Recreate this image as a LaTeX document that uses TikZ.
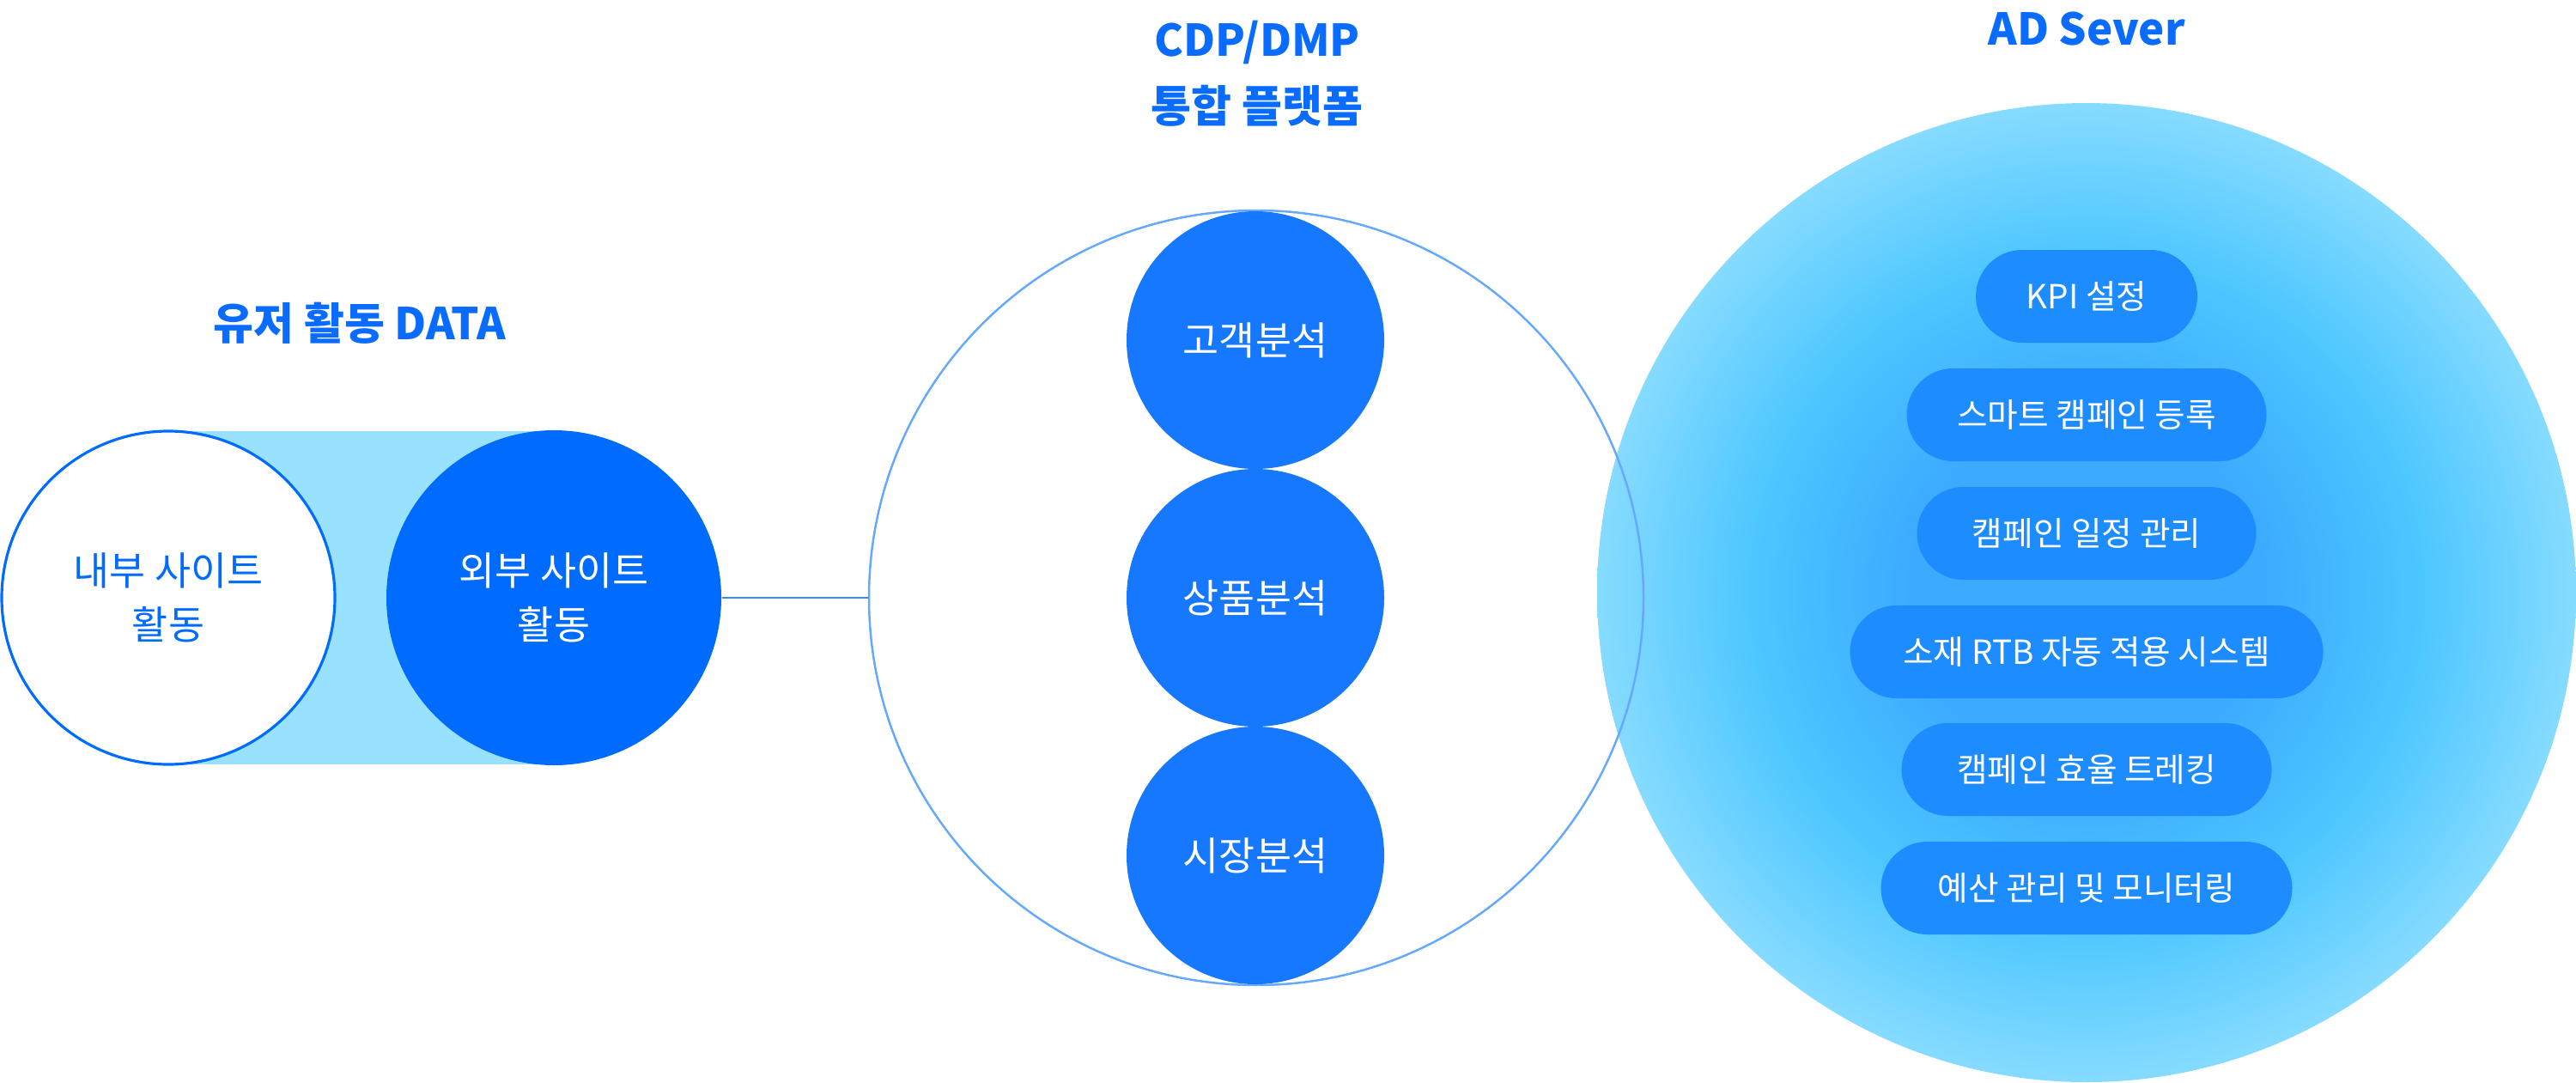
\documentclass[tikz,border=0pt]{standalone}
\usepackage{fontspec}
\setmainfont{Noto Sans CJK KR}
\usetikzlibrary{calc}
\definecolor{titleblue}{RGB}{10,108,255}
\definecolor{deepblue}{RGB}{0,108,255}
\definecolor{midblue}{RGB}{22,119,255}
\definecolor{pillblue}{RGB}{28,140,255}
\definecolor{bandblue}{RGB}{152,225,255}
\definecolor{ringblue}{RGB}{100,168,255}
\definecolor{linkblue}{RGB}{50,140,255}
\definecolor{glowA}{RGB}{60,170,255}
\definecolor{glowB}{RGB}{76,198,255}
\definecolor{glowC}{RGB}{134,219,255}
\pgfdeclareradialshading{adglow}{\pgfpoint{0bp}{0bp}}{color(0bp)=(glowA); color(9bp)=(glowA); color(17bp)=(glowB); color(25bp)=(glowC); color(50bp)=(glowC)}

\begin{document}
\begin{tikzpicture}[
  headtext/.style={font=\bfseries\fontsize{14.5}{22}\selectfont, text=titleblue, align=center},
  bodytext/.style={font=\fontsize{13}{18}\selectfont, align=center},
  ball/.style={circle, bodytext, inner sep=0pt, text=white},
  pill/.style={rectangle, rounded corners=0.54cm, fill=pillblue, text=white, minimum height=1.08cm, inner sep=0pt, font=\fontsize{11}{13}\selectfont}
]
\useasboundingbox (0,0) rectangle (30,12.6);

\fill [bandblue] (1.96,3.70) rectangle (6.45,7.58);
\node [ball, minimum size=3.88cm, fill=white, draw=deepblue, line width=0.9pt, text=deepblue] (insite) at (1.96,5.64) {내부 사이트\\활동};
\node [ball, minimum size=3.90cm, fill=deepblue] (extsite) at (6.45,5.64) {외부 사이트\\활동};
\node [headtext] (usertitle) at (4.19,8.84) {유저 활동 DATA};

\node [circle, minimum size=11.4cm, inner sep=0pt, shading=adglow] (adserver) at (24.30,5.70) {};
\node [headtext] (adtitle) at (24.30,12.26) {AD Sever};

\node [circle, minimum size=9.02cm, inner sep=0pt, draw=ringblue, line width=0.7pt] (cdp) at (14.63,5.64) {};
\node [headtext] (cdptitle) at (14.64,11.74) {CDP/DMP\\통합 플랫폼};
\node [ball, minimum size=3.0cm, fill=midblue] (customer) at (14.62,8.64) {고객분석};
\node [ball, minimum size=3.0cm, fill=midblue] (product) at (14.62,5.64) {상품분석};
\node [ball, minimum size=3.0cm, fill=midblue] (market) at (14.62,2.64) {시장분석};

\draw [linkblue, line width=0.75pt] (extsite.east) -- (cdp.west);

\node [pill, minimum width=2.58cm] (kpi) at (24.30,9.15) {KPI 설정};
\node [pill, minimum width=4.19cm] (smart) at (24.30,7.77) {스마트 캠페인 등록};
\node [pill, minimum width=3.95cm] (schedule) at (24.30,6.39) {캠페인 일정 관리};
\node [pill, minimum width=5.51cm] (rtb) at (24.30,5.01) {소재 RTB 자동 적용 시스템};
\node [pill, minimum width=4.31cm] (tracking) at (24.30,3.64) {캠페인 효율 트레킹};
\node [pill, minimum width=4.79cm] (budget) at (24.30,2.26) {예산 관리 및 모니터링};
\end{tikzpicture}
\end{document}
